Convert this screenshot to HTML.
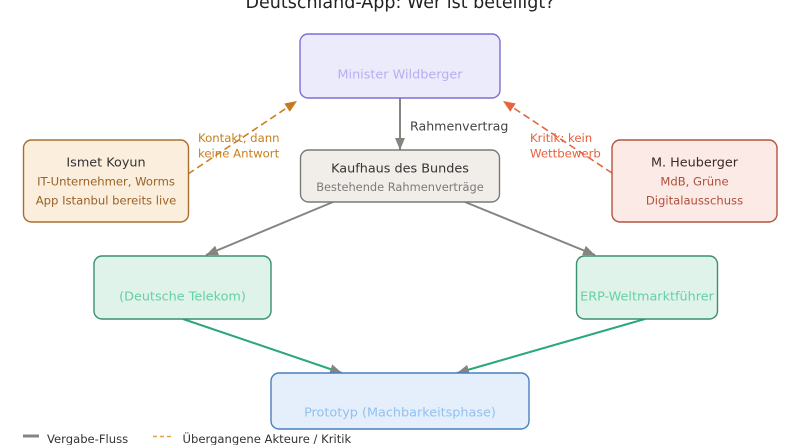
<!DOCTYPE html>
<html>
<head>
<meta charset="utf-8">
<style>
html,body{margin:0;padding:0;background:#fff;}
svg{display:block;}
text{font-family:"DejaVu Sans","Liberation Sans",sans-serif;}
</style>
</head>
<body>
<svg width="800" height="445" viewBox="0 0 800 445" xmlns="http://www.w3.org/2000/svg">
  <defs>
    <marker id="ag" viewBox="0 0 12 10" refX="12" refY="5" markerWidth="12" markerHeight="10" markerUnits="userSpaceOnUse" orient="auto">
      <path d="M0,0 L12,5 L0,10 z" fill="#858580"/>
    </marker>
    <marker id="ao" viewBox="0 0 12 10" refX="12" refY="5" markerWidth="12" markerHeight="10" markerUnits="userSpaceOnUse" orient="auto">
      <path d="M0,0 L12,5 L0,10 z" fill="#c47a1e"/>
    </marker>
    <marker id="ar" viewBox="0 0 12 10" refX="12" refY="5" markerWidth="12" markerHeight="10" markerUnits="userSpaceOnUse" orient="auto">
      <path d="M0,0 L12,5 L0,10 z" fill="#e4643e"/>
    </marker>
  </defs>

  <!-- Title -->
  <text x="400" y="8" text-anchor="middle" font-size="17.4" fill="#222" textLength="309" lengthAdjust="spacingAndGlyphs">Deutschland-App: Wer ist beteiligt?</text>

  <!-- Connectors -->
  <line x1="400" y1="98" x2="400" y2="150" stroke="#858580" stroke-width="2" marker-end="url(#ag)"/>
  <line x1="333" y1="202" x2="206" y2="255" stroke="#858580" stroke-width="2" marker-end="url(#ag)"/>
  <line x1="465" y1="202" x2="595" y2="255" stroke="#858580" stroke-width="2" marker-end="url(#ag)"/>
  <line x1="183" y1="319" x2="342" y2="373" stroke="#2aa878" stroke-width="2" marker-end="url(#ag)"/>
  <line x1="645" y1="319" x2="457" y2="373" stroke="#2aa878" stroke-width="2" marker-end="url(#ag)"/>
  <line x1="188" y1="174" x2="297" y2="101" stroke="#c88020" stroke-width="1.6" stroke-dasharray="7,4" marker-end="url(#ao)"/>
  <line x1="612" y1="173" x2="503" y2="101" stroke="#e4643e" stroke-width="1.6" stroke-dasharray="7,4" marker-end="url(#ar)"/>

  <!-- Connector labels -->
  <text x="410" y="130.5" font-size="12.6" fill="#444">Rahmenvertrag</text>
  <text x="198" y="142" font-size="11.7" fill="#c8801e">Kontakt, dann</text>
  <text x="198" y="157.5" font-size="11.7" fill="#c8801e">keine Antwort</text>
  <text x="530" y="142" font-size="11.7" fill="#e8603c">Kritik: kein</text>
  <text x="530" y="157.5" font-size="11.7" fill="#e8603c">Wettbewerb</text>

  <!-- Minister -->
  <rect x="300" y="34" width="200" height="64" rx="8" fill="#ecebfc" stroke="#7b70d2" stroke-width="1.4"/>
  <text x="400" y="78.6" text-anchor="middle" font-size="12.8" fill="#b6aef3">Minister Wildberger</text>

  <!-- Kaufhaus -->
  <rect x="300.5" y="150" width="199" height="52" rx="8" fill="#f1eee9" stroke="#7a7a76" stroke-width="1.4"/>
  <text x="400" y="172.6" text-anchor="middle" font-size="12.8" fill="#333">Kaufhaus des Bundes</text>
  <text x="400" y="191.2" text-anchor="middle" font-size="11.4" fill="#7a7a7a">Bestehende Rahmenverträge</text>

  <!-- Ismet Koyun -->
  <rect x="23.5" y="140" width="165" height="82" rx="8" fill="#fbeedc" stroke="#a8702e" stroke-width="1.4"/>
  <text x="106" y="166.6" text-anchor="middle" font-size="12.8" fill="#333">Ismet Koyun</text>
  <text x="106" y="185.3" text-anchor="middle" font-size="11.6" fill="#9a6228">IT-Unternehmer, Worms</text>
  <text x="106" y="204.3" text-anchor="middle" font-size="11.6" fill="#9a6228">App Istanbul bereits live</text>

  <!-- Heuberger -->
  <rect x="612" y="140" width="165" height="82" rx="8" fill="#fbeae5" stroke="#b5543e" stroke-width="1.4"/>
  <text x="694.5" y="166.6" text-anchor="middle" font-size="12.8" fill="#3a2a28">M. Heuberger</text>
  <text x="694.5" y="185.3" text-anchor="middle" font-size="11.6" fill="#b0503a">MdB, Grüne</text>
  <text x="694.5" y="204.3" text-anchor="middle" font-size="11.6" fill="#b0503a">Digitalausschuss</text>

  <!-- Telekom -->
  <rect x="94" y="256" width="177" height="63" rx="8" fill="#e0f3eb" stroke="#3a8f6e" stroke-width="1.4"/>
  <text x="182.5" y="300.6" text-anchor="middle" font-size="12.8" fill="#66d0a4">(Deutsche Telekom)</text>

  <!-- ERP -->
  <rect x="576.5" y="256" width="141" height="63" rx="8" fill="#e0f3eb" stroke="#3a8f6e" stroke-width="1.4"/>
  <text x="647" y="300.6" text-anchor="middle" font-size="12.8" fill="#66d0a4">ERP-Weltmarktführer</text>

  <!-- Prototyp -->
  <rect x="271" y="373" width="258" height="56" rx="8" fill="#e4effb" stroke="#4a7fc0" stroke-width="1.4"/>
  <text x="400" y="416.6" text-anchor="middle" font-size="12.8" fill="#93c0f0">Prototyp (Machbarkeitsphase)</text>

  <!-- Legend -->
  <line x1="23" y1="436" x2="39" y2="436" stroke="#858580" stroke-width="3"/>
  <text x="47" y="443" font-size="11.6" fill="#333">Vergabe-Fluss</text>
  <line x1="153" y1="436.5" x2="173" y2="436.5" stroke="#e0a050" stroke-width="1.5" stroke-dasharray="4,3"/>
  <text x="182.5" y="443" font-size="11.6" fill="#333">Übergangene Akteure / Kritik</text>
</svg>
</body>
</html>
